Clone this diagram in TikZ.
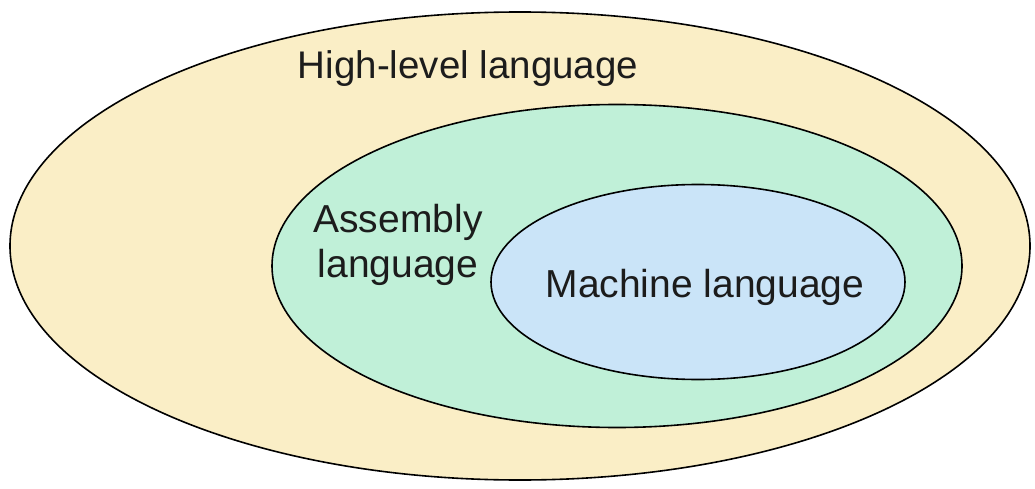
\documentclass[tikz,border=0pt]{standalone}
\usepackage{fontspec}
\setmainfont{Liberation Sans}
\usetikzlibrary{shapes.geometric}
\definecolor{hlfill}{RGB}{250,238,198}
\definecolor{asmfill}{RGB}{192,240,216}
\definecolor{mcfill}{RGB}{202,228,248}
\definecolor{txt}{RGB}{28,28,28}
\tikzset{
  region/.style={ellipse, draw=black, line width=1.6pt, inner sep=0pt},
  lbl/.style={text=txt, font=\fontsize{39}{46}\selectfont, inner sep=0pt, anchor=base, align=center}
}
\begin{document}
\begin{tikzpicture}[x=1pt,y=-1pt]
\useasboundingbox (0,0) rectangle (1035,489);
\node[region, fill=hlfill, minimum width=1020, minimum height=468] (outer) at (520,246) {};
\node[region, fill=asmfill, minimum width=690, minimum height=323] (mid) at (617,266) {};
\node[region, fill=mcfill, minimum width=414, minimum height=195] (inner) at (698,282) {};
\node[lbl, font=\fontsize{38.5}{46}\selectfont] (hl) at (468,79) {High-level language};
\node[lbl] (asm1) at (398,232) {Assembly};
\node[lbl] (asm2) at (398,277) {language};
\node[lbl] (mc) at (705,297) {Machine language};
\end{tikzpicture}
\end{document}
